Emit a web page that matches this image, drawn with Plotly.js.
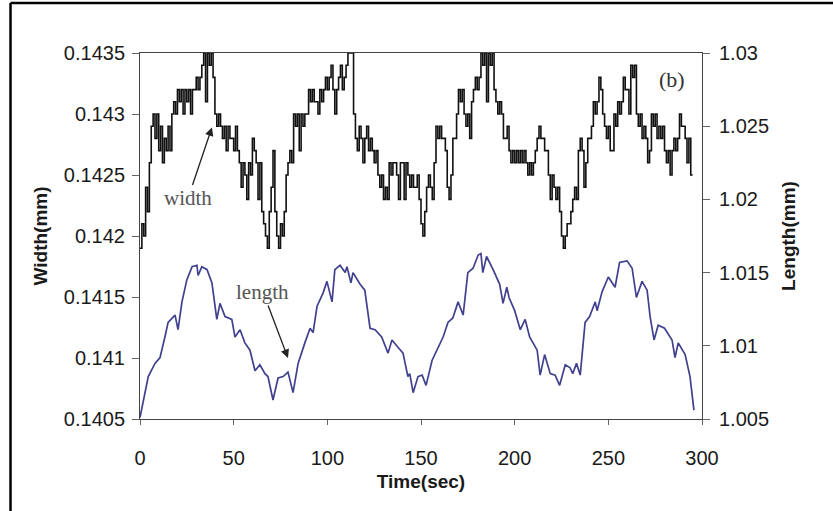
<!DOCTYPE html>
<html>
<head>
<meta charset="utf-8">
<script src="https://cdn.plot.ly/plotly-3.0.1.min.js"></script>
<style>html,body{margin:0;padding:0;background:#fff;}#chart{width:833px;height:511px;}</style>
</head>
<body>
<div id="chart"></div>
<script>
// Width (mm), sampled once per second from t = 0 s
const widthValues = [
0.1419,0.1421,0.1420,0.1424,0.1422,0.1426,0.1429,0.1430,0.1428,0.1430,
0.1427,0.1429,0.1426,0.1428,0.1427,0.1429,0.1427,0.1430,0.1431,0.1430,
0.1432,0.1431,0.1432,0.1430,0.1432,0.1431,0.1432,0.1430,0.1432,0.1432,
0.1433,0.1432,0.1433,0.1434,0.1435,0.1431,0.1435,0.1434,0.1435,0.1433,
0.1430,0.1429,0.1430,0.1429,0.1428,0.1429,0.1427,0.1429,0.1428,0.1428,
0.1427,0.1429,0.1427,0.1426,0.1424,0.1426,0.1425,0.1423,0.1426,0.1425,
0.1428,0.1427,0.1426,0.1423,0.1426,0.1422,0.1421,0.1420,0.1419,0.1422,
0.1424,0.1427,0.1422,0.1420,0.1419,0.1421,0.1420,0.1422,0.1425,0.1426,
0.1427,0.1426,0.1430,0.1429,0.1430,0.1427,0.1430,0.1429,0.1430,0.1430,
0.1432,0.1431,0.1432,0.1431,0.1431,0.1430,0.1432,0.1431,0.1432,0.1433,
0.1432,0.1433,0.1434,0.1432,0.1430,0.1432,0.1433,0.1434,0.1432,0.1433,
0.1434,0.1435,0.1435,0.1435,0.1430,0.1428,0.1427,0.1429,0.1428,0.1426,
0.1428,0.1429,0.1427,0.1428,0.1427,0.1426,0.1427,0.1425,0.1424,0.1425,
0.1423,0.1424,0.1423,0.1426,0.1425,0.1426,0.1426,0.1425,0.1423,0.1426,
0.1426,0.1423,0.1426,0.1425,0.1424,0.1425,0.1424,0.1424,0.1425,0.1423,
0.1421,0.1420,0.1422,0.1424,0.1425,0.1424,0.1423,0.1426,0.1429,0.1428,
0.1429,0.1428,0.1428,0.1427,0.1424,0.1423,0.1425,0.1428,0.1428,0.1430,
0.1432,0.1431,0.1432,0.1430,0.1429,0.1430,0.1428,0.1431,0.1432,0.1433,
0.1432,0.1433,0.1435,0.1434,0.1435,0.1431,0.1435,0.1434,0.1435,0.1432,
0.1431,0.1430,0.1431,0.1430,0.1428,0.1428,0.1429,0.1427,0.1426,0.1427,
0.1426,0.1427,0.1426,0.1427,0.1426,0.1427,0.1426,0.1425,0.1426,0.1425,
0.1426,0.1427,0.1428,0.1429,0.1428,0.1428,0.1427,0.1427,0.1425,0.1423,
0.1425,0.1424,0.1423,0.1424,0.1422,0.1420,0.1419,0.1420,0.1421,0.1421,
0.1422,0.1423,0.1424,0.1423,0.1427,0.1428,0.1427,0.1424,0.1426,0.1428,
0.1428,0.1429,0.1431,0.1430,0.1431,0.1433,0.1432,0.1430,0.1429,0.1428,
0.1429,0.1427,0.1427,0.1430,0.1429,0.1431,0.1430,0.1431,0.1433,0.1432,
0.1432,0.1430,0.1434,0.1433,0.1434,0.1430,0.1429,0.1430,0.1428,0.1429,
0.1428,0.1426,0.1427,0.1430,0.1429,0.1430,0.1428,0.1429,0.1428,0.1429,
0.1427,0.1426,0.1427,0.1425,0.1427,0.1428,0.1427,0.1428,0.1430,0.1429,
0.1429,0.1428,0.1426,0.1428,0.1425,0.1425
];
const widthTime = widthValues.map((_, i) => i);

// Length (mm)
const lengthTime = [0,2.7,4.4,8,10.7,13.3,15,18.7,20.3,22.4,25,27.8,30.4,31,33,35.8,38.4,41,42.7,45.4,49,50.7,53.4,56,58.7,61.4,64,66.7,68.3,71,73.7,76.4,79,81.7,84.4,88,90.8,92.4,94.5,97.7,99.8,102.5,104,106.8,109.5,110.5,112.6,113.7,117.5,120,122.8,125.5,129,132.4,134.5,137.7,140.4,143,144,145.8,148.4,150.6,152.7,155.9,159,161.8,164.4,167,169.8,172.5,175,177.8,180.5,182,183,185,188.5,192,193.8,195.8,197,200,203,205.6,208,212,213.6,216,219,221.6,224,227,229.6,231,233,235,237.6,240,243,244,246.7,250,253.6,256,260,262.7,265,268,270.7,272.3,274.4,276.6,280,284,285.6,287.3,291,293.6,295.7];
const lengthValues = [1.0051,1.0068,1.0079,1.0088,1.0092,1.0106,1.0116,1.0121,1.0111,1.0130,1.0145,1.0154,1.0155,1.0148,1.0154,1.0152,1.0143,1.0118,1.0129,1.0120,1.0118,1.0106,1.0111,1.0102,1.0097,1.0083,1.0087,1.0081,1.0079,1.0063,1.0078,1.0079,1.0082,1.0068,1.0088,1.0102,1.0112,1.0109,1.0127,1.0136,1.0144,1.0130,1.0152,1.0155,1.0150,1.0154,1.0143,1.0150,1.0142,1.0138,1.0112,1.0111,1.0106,1.0095,1.0104,1.0099,1.0095,1.0079,1.0081,1.0068,1.0079,1.0080,1.0073,1.0090,1.0099,1.0106,1.0116,1.0119,1.0130,1.0121,1.0150,1.0153,1.0162,1.0163,1.0150,1.0161,1.0152,1.0142,1.0129,1.0140,1.0133,1.0124,1.0111,1.0118,1.0106,1.0097,1.0080,1.0094,1.0081,1.0080,1.0073,1.0087,1.0085,1.0081,1.0088,1.0080,1.0116,1.0120,1.0130,1.0124,1.0137,1.0147,1.0140,1.0157,1.0158,1.0153,1.0133,1.0144,1.0138,1.0120,1.0104,1.0114,1.0112,1.0104,1.0092,1.0102,1.0094,1.0079,1.0056];

const sans = 'Liberation Sans, Arial, sans-serif';
const serif = 'Liberation Serif, Times New Roman, serif';

const traces = [
  {x: widthTime, y: widthValues, type: 'scatter', mode: 'lines', name: 'width',
   line: {color: '#111', width: 1.6, shape: 'hv'}, yaxis: 'y', showlegend: false},
  {x: lengthTime, y: lengthValues, type: 'scatter', mode: 'lines', name: 'length',
   line: {color: '#40408f', width: 1.7}, yaxis: 'y2', showlegend: false}
];

const layout = {
  width: 833, height: 511,
  margin: {l: 140, r: 131, t: 53, b: 92},
  paper_bgcolor: '#fff', plot_bgcolor: '#fff',
  showlegend: false,
  xaxis: {
    range: [0, 300], tick0: 0, dtick: 50, ticks: 'outside', ticklen: 5, tickcolor: '#666',
    showline: true, linecolor: '#444', linewidth: 1, mirror: true,
    showgrid: false, zeroline: false, ticklabelstandoff: 16,
    tickfont: {family: sans, size: 20, color: '#1a1a1a'},
    title: {text: 'Time(sec)', font: {family: sans, size: 19, color: '#1a1a1a', weight: 'bold'}, standoff: 6}
  },
  yaxis: {
    range: [0.1405, 0.1435], tick0: 0.1405, dtick: 0.0005, ticks: 'outside', ticklen: 7, tickcolor: '#666',
    showline: true, linecolor: '#444', linewidth: 1,
    showgrid: false, zeroline: false, ticklabelstandoff: 3,
    tickfont: {family: sans, size: 20, color: '#1a1a1a'},
    title: {text: 'Width(mm)', font: {family: sans, size: 19, color: '#1a1a1a', weight: 'bold'}, standoff: 11}
  },
  yaxis2: {
    range: [1.005, 1.03], tick0: 1.005, dtick: 0.005, ticks: 'outside', ticklen: 7, tickcolor: '#666',
    overlaying: 'y', side: 'right',
    showline: true, linecolor: '#444', linewidth: 1,
    showgrid: false, zeroline: false, ticklabelstandoff: 5,
    tickfont: {family: sans, size: 20, color: '#1a1a1a'},
    title: {text: 'Length(mm)', font: {family: sans, size: 19, color: '#1a1a1a', weight: 'bold'}, standoff: 13}
  },
  annotations: [
    {x: 38.4, y: 0.14289, xref: 'x', yref: 'y', text: 'width', showarrow: true,
     ax: -24, ay: 71, arrowhead: 2, arrowsize: 1.3, arrowwidth: 1.3, arrowcolor: '#222',
     font: {family: serif, size: 21, color: '#555'}},
    {x: 79.0, y: 1.00917, xref: 'x', yref: 'y2', text: 'length', showarrow: true,
     ax: -25, ay: -66, arrowhead: 2, arrowsize: 1.3, arrowwidth: 1.3, arrowcolor: '#222',
     font: {family: serif, size: 21, color: '#555'}},
    {x: 284, y: 0.14328, xref: 'x', yref: 'y', text: '(b)', showarrow: false,
     font: {family: serif, size: 22, color: '#333'}}
  ],
  shapes: [
    {type: 'line', xref: 'paper', yref: 'paper', x0: -0.2304, x1: 1.24, y0: 1.1366, y1: 1.1366,
     line: {color: '#000', width: 2.5}},
    {type: 'line', xref: 'paper', yref: 'paper', x0: -0.2304, x1: -0.2304, y0: 1.1366, y1: -0.26,
     line: {color: '#000', width: 2.5}}
  ]
};

Plotly.newPlot('chart', traces, layout, {staticPlot: true, displayModeBar: false});
</script>
</body>
</html>
